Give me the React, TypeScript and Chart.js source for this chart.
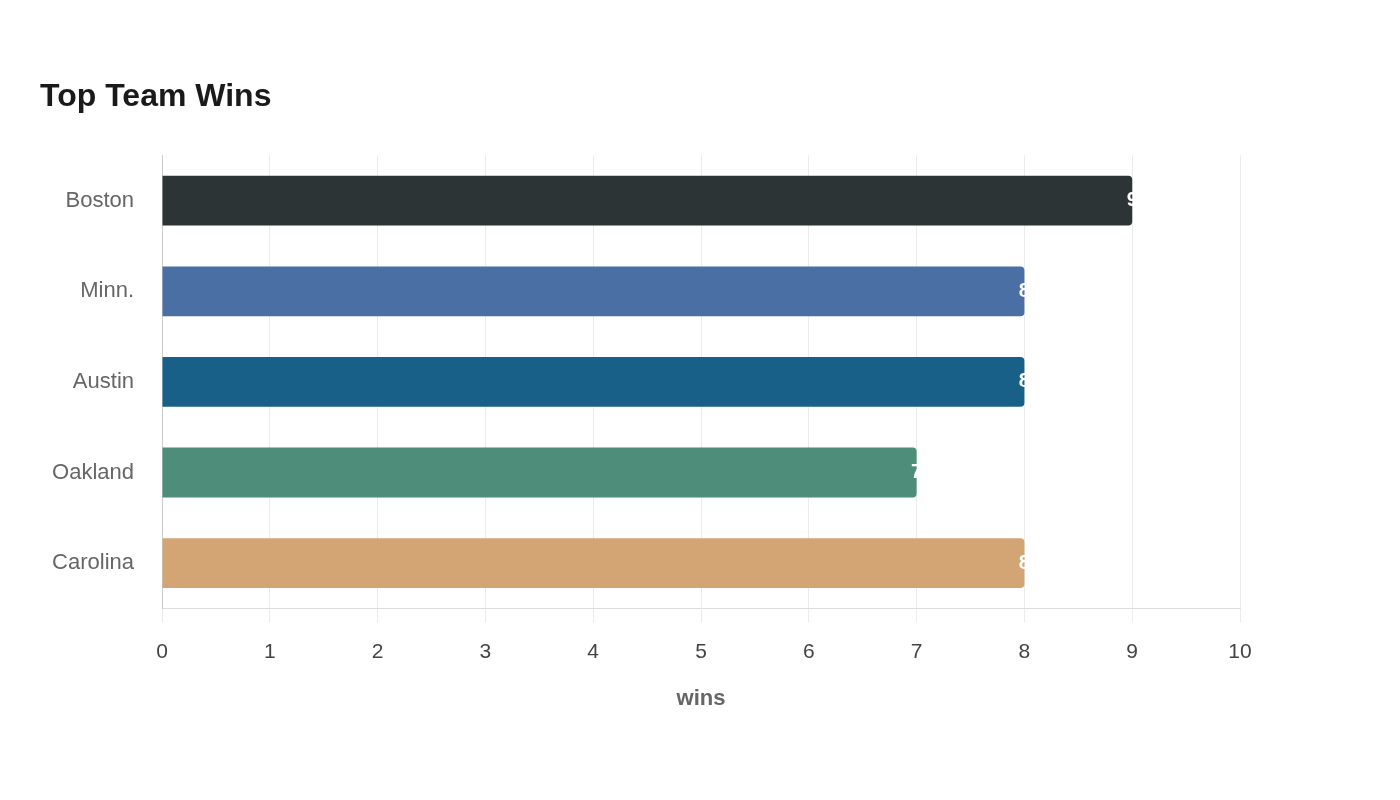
import React, { useEffect, useRef } from "react";
import { Chart, registerables } from "chart.js";

Chart.register(...registerables);

const teams = ["Boston", "Minn.", "Austin", "Oakland", "Carolina"];
const wins = [9, 8, 8, 7, 8];
const barColors = ["#2d3436", "#4a6fa5", "#186087", "#4f8d7b", "#d3a574"];
const xTicks = [0, 1, 2, 3, 4, 5, 6, 7, 8, 9, 10];
const chartTitle = "Top Team Wins";
const xTitle = "wins";

const FONT = "'Liberation Sans', Arial, sans-serif";

const valueLabels = {
  id: "valueLabels",
  afterDatasetsDraw(chart: any) {
    const ctx = chart.ctx;
    const meta = chart.getDatasetMeta(0);
    ctx.save();
    ctx.fillStyle = "#ffffff";
    ctx.font = `bold 20px ${FONT}`;
    ctx.textAlign = "center";
    ctx.textBaseline = "middle";
    meta.data.forEach((el: any, i: number) => {
      ctx.fillText(String(wins[i]), el.x, el.y);
    });
    ctx.restore();
  },
};

export default function App() {
  const ref = useRef<HTMLCanvasElement | null>(null);
  useEffect(() => {
    if (!ref.current) return;
    const chart = new Chart(ref.current, {
      type: "bar",
      data: {
        labels: teams,
        datasets: [
          {
            data: wins,
            backgroundColor: barColors,
            borderRadius: 4,
            borderSkipped: "start",
            barPercentage: 0.55,
            categoryPercentage: 1,
          },
        ],
      },
      plugins: [valueLabels],
      options: {
        indexAxis: "y",
        animation: false,
        responsive: true,
        maintainAspectRatio: false,
        layout: { padding: { top: 78, left: 40, right: 160, bottom: 88 } },
        plugins: {
          legend: { display: false },
          tooltip: { enabled: false },
          title: {
            display: true,
            text: chartTitle,
            align: "start",
            color: "#1a1a1a",
            font: { family: FONT, size: 32, weight: "bold" },
            padding: { top: 0, bottom: 39 },
          },
        },
        scales: {
          x: {
            min: 0,
            max: 10,
            afterBuildTicks: (axis: any) => {
              axis.ticks = xTicks.map((v) => ({ value: v }));
            },
            grid: {
              color: "#ebebeb",
              lineWidth: 1,
              drawTicks: true,
              tickLength: 14,
            },
            border: { display: true, color: "#dddddd" },
            ticks: {
              color: "#444444",
              font: { family: FONT, size: 21 },
              padding: 17,
              maxRotation: 0,
            },
            title: {
              display: true,
              text: xTitle,
              color: "#666666",
              font: { family: FONT, size: 22, weight: "bold" },
              padding: { top: 4, bottom: 0 },
            },
          },
          y: {
            afterFit: (axis: any) => {
              axis.width = 122;
            },
            grid: { display: false, drawTicks: false },
            border: { display: true, color: "#cccccc" },
            ticks: {
              color: "#666666",
              font: { family: FONT, size: 22 },
              padding: 28,
            },
          },
        },
      },
    } as any);
    return () => chart.destroy();
  }, []);
  return (
    <div style={{ position: "fixed", left: 0, top: 0, width: 1400, height: 800, background: "#fff" }}>
      <canvas ref={ref} />
    </div>
  );
}
